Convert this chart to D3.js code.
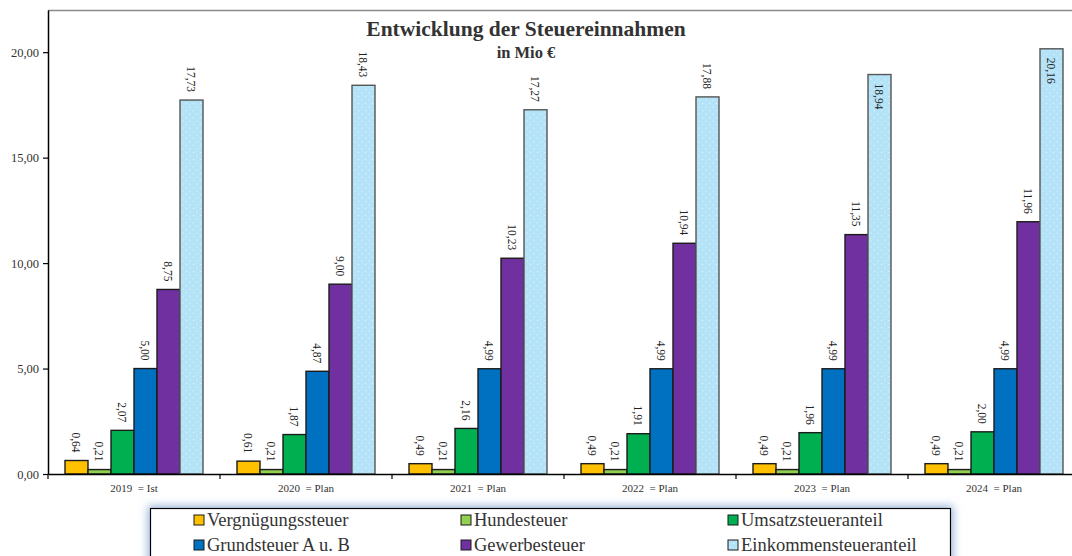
<!DOCTYPE html>
<html>
<head>
<meta charset="utf-8">
<script src="https://cdn.jsdelivr.net/npm/d3@7"></script>
<style>
  body { margin: 0; background: #fff; }
  svg { display: block; font-family: "Liberation Serif", "Times New Roman", serif; }
</style>
</head>
<body>
<svg id="chart" width="1072" height="556"></svg>
<script>
// data
const years = ["2019  = Ist", "2020  = Plan", "2021  = Plan", "2022  = Plan", "2023  = Plan", "2024  = Plan"];
const seriesNames = ["Vergnügungssteuer", "Hundesteuer", "Umsatzsteueranteil",
                     "Grundsteuer A u. B", "Gewerbesteuer", "Einkommensteueranteil"];
const vergnuegung = [0.64, 0.61, 0.49, 0.49, 0.49, 0.49];
const hunde       = [0.21, 0.21, 0.21, 0.21, 0.21, 0.21];
const umsatz      = [2.07, 1.87, 2.16, 1.91, 1.96, 2.00];
const grund       = [5.00, 4.87, 4.99, 4.99, 4.99, 4.99];
const gewerbe     = [8.75, 9.00, 10.23, 10.94, 11.35, 11.96];
const einkommen   = [17.73, 18.43, 17.27, 17.88, 18.94, 20.16];
const yTicks = [0, 5, 10, 15, 20];

const seriesVals = [vergnuegung, hunde, umsatz, grund, gewerbe, einkommen];
const colors = ["#ffc000", "#92d050", "#00b050", "#0070c0", "#7030a0", "url(#dots)"];

const svg = d3.select("#chart");
const fmt = v => d3.format(".2f")(v).replace(".", ",");

// defs: dotted fill for the light blue series, glow for legend
const defs = svg.append("defs");
const pat = defs.append("pattern").attr("id", "dots")
  .attr("patternUnits", "userSpaceOnUse").attr("width", 7).attr("height", 7);
pat.append("rect").attr("width", 7).attr("height", 7).attr("fill", "#b4e3f8");
pat.append("circle").attr("cx", 2).attr("cy", 2).attr("r", 0.6).attr("fill", "#e8f7fd");
pat.append("circle").attr("cx", 5.5).attr("cy", 5.5).attr("r", 0.6).attr("fill", "#e8f7fd");

const glow = defs.append("filter").attr("id", "glow")
  .attr("x", "-5%").attr("y", "-50%").attr("width", "110%").attr("height", "200%");
glow.append("feMorphology").attr("in", "SourceAlpha").attr("operator", "dilate")
  .attr("radius", 2).attr("result", "fat");
glow.append("feGaussianBlur").attr("in", "fat").attr("stdDeviation", 4).attr("result", "blur");
glow.append("feFlood").attr("flood-color", "#8eaad6").attr("flood-opacity", 0.9);
glow.append("feComposite").attr("in2", "blur").attr("operator", "in").attr("result", "shadow");
const merge = glow.append("feMerge");
merge.append("feMergeNode").attr("in", "shadow");
merge.append("feMergeNode").attr("in", "SourceGraphic");

// scales
const left = 48, groupW = 172;
const x = d3.scaleBand().domain(years).range([left, left + groupW * years.length]);
const xi = d3.scaleBand().domain(d3.range(6)).range([17, 155]);
const y = d3.scaleLinear().domain([0, 22]).range([474, 10]);

// plot frame top line
svg.append("line").attr("x1", left).attr("x2", 1072).attr("y1", 10.5).attr("y2", 10.5)
  .attr("stroke", "#8a8a8a").attr("stroke-width", 1.5);

// bars
const groups = svg.append("g").selectAll("g").data(years).join("g")
  .attr("transform", d => `translate(${x(d)},0)`);

groups.each(function(yr, gi) {
  const g = d3.select(this);
  seriesVals.forEach((vals, si) => {
    const v = vals[gi];
    const bx = xi(si), bw = xi.bandwidth();
    g.append("rect")
      .attr("x", bx).attr("y", y(v))
      .attr("width", bw).attr("height", y(0) - y(v))
      .attr("fill", colors[si])
      .attr("stroke", si === 5 ? "#555" : "#1b1b1b")
      .attr("stroke-width", 1.4);

    // labels rotated, above bar unless there is no room
    const inside = y(v) - 30 < y(20);
    const cx = bx + bw / 2;
    const ly = inside ? y(v) + 9 : y(v) - 8;
    g.append("text")
      .attr("transform", `translate(${cx},${ly}) rotate(90)`)
      .attr("dy", "0.35em")
      .attr("text-anchor", inside ? "start" : "end")
      .attr("font-size", 11.5)
      .attr("fill", "#222")
      .text(fmt(v));
  });
});

// y axis
const yAxis = svg.append("g").attr("transform", `translate(${left},0)`)
  .call(d3.axisLeft(y).tickValues(yTicks).tickFormat(fmt).tickSize(5).tickSizeOuter(0));
yAxis.select(".domain").attr("stroke", "#000").attr("stroke-width", 1.5);
yAxis.selectAll(".tick line").attr("stroke", "#000").attr("stroke-width", 1.2);
yAxis.selectAll(".tick text").attr("font-family", "Liberation Serif, serif")
  .attr("font-size", 12.5).attr("fill", "#333").attr("x", -9);

// x axis
const xAxis = svg.append("g").attr("transform", `translate(0,${y(0)})`)
  .call(d3.axisBottom(x).tickSize(0).tickSizeOuter(0));
xAxis.select(".domain").attr("stroke", "#000").attr("stroke-width", 1.5);
xAxis.selectAll(".tick text").attr("font-family", "Liberation Serif, serif")
  .attr("font-size", 11).attr("fill", "#333").attr("dy", "0.71em").attr("y", 10)
  .style("white-space", "pre").attr("xml:space", "preserve");
// boundary ticks between groups
xAxis.append("g").selectAll("line")
  .data(d3.range(years.length + 1).map(i => left + i * groupW))
  .join("line")
  .attr("x1", d => d).attr("x2", d => d).attr("y1", 0).attr("y2", 5)
  .attr("stroke", "#000").attr("stroke-width", 1.2);

// title
svg.append("text").attr("x", 526).attr("y", 36).attr("text-anchor", "middle")
  .attr("font-weight", "bold").attr("font-size", 21.5).attr("fill", "#333")
  .text("Entwicklung der Steuereinnahmen");
svg.append("text").attr("x", 526).attr("y", 58).attr("text-anchor", "middle")
  .attr("font-weight", "bold").attr("font-size", 16.5).attr("fill", "#333")
  .text("in Mio €");

// legend
const lg = svg.append("g");
lg.append("rect").attr("x", 150.5).attr("y", 508.5).attr("width", 800).attr("height", 70)
  .attr("fill", "#fff").attr("stroke", "#000").attr("stroke-width", 1.2)
  .attr("filter", "url(#glow)");
const colX = [194, 461, 728];
const rowY = [520, 545];
const legItems = lg.selectAll("g.item").data(seriesNames).join("g").attr("class", "item")
  .attr("transform", (d, i) => `translate(${colX[i % 3]},${rowY[Math.floor(i / 3)]})`);
legItems.append("rect").attr("x", 0).attr("y", -5).attr("width", 10).attr("height", 10)
  .attr("fill", (d, i) => colors[i]).attr("stroke", "#1b1b1b").attr("stroke-width", 1);
legItems.append("text").attr("x", 13).attr("dy", "0.35em")
  .attr("font-size", 18.5).attr("fill", "#333").text(d => d);
</script>
</body>
</html>
